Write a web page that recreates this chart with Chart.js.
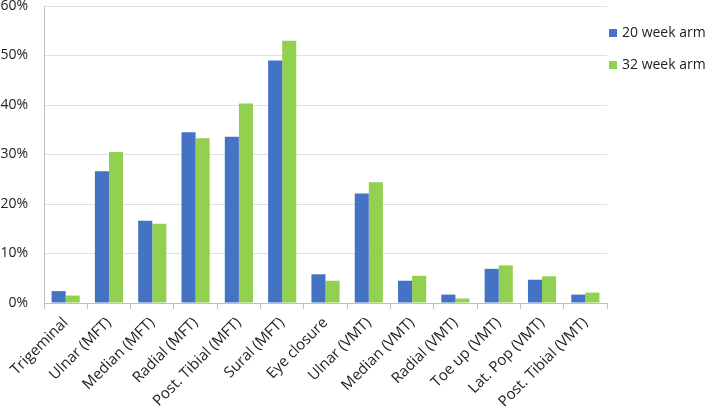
<!DOCTYPE html>
<html>
<head>
<meta charset="utf-8">
<script src="https://cdn.jsdelivr.net/npm/chart.js@4/dist/chart.umd.min.js"></script>
<style>
  html, body { margin: 0; padding: 0; background: #fff; }
  #wrap { width: 708px; height: 408px; }
</style>
</head>
<body>
<div id="wrap"><canvas id="grafico"></canvas></div>
<script>
var categorias = ["Trigeminal", "Ulnar (MFT)", "Median (MFT)", "Radial (MFT)", "Post. Tibial (MFT)",
  "Sural (MFT)", "Eye closure", "Ulnar (VMT)", "Median (VMT)", "Radial (VMT)", "Toe up (VMT)",
  "Lat. Pop (VMT)", "Post. Tibial (VMT)"];
var semana20 = [2.4, 26.6, 16.6, 34.5, 33.6, 49.0, 5.8, 22.1, 4.5, 1.7, 6.9, 4.7, 1.7];
var semana32 = [1.5, 30.5, 16.0, 33.3, 40.3, 53.0, 4.5, 24.4, 5.5, 0.9, 7.6, 5.4, 2.1];
var ticksY = [0, 10, 20, 30, 40, 50, 60];

var fonte = "'Open Sans', 'Liberation Sans', sans-serif";

// legenda desenhada a mao, a direita do grafico
const legendaDireita = {
  id: "legendaDireita",
  afterDraw: function (chart) {
    var ctx = chart.ctx;
    ctx.save();
    ctx.font = "14px " + fonte;
    ctx.textBaseline = "middle";
    ctx.textAlign = "left";
    chart.data.datasets.forEach(function (ds, i) {
      var y = 33 + i * 32;
      ctx.fillStyle = ds.backgroundColor;
      ctx.fillRect(609, y - 4, 8, 8);
      ctx.fillStyle = "#222";
      ctx.fillText(ds.label, 622, y);
    });
    ctx.restore();
  },
};

const config = {
  type: "bar",
  data: {
    labels: categorias,
    datasets: [
      {
        label: "20 week arm",
        backgroundColor: "#4472C4",
        data: semana20,
      },
      {
        label: "32 week arm",
        backgroundColor: "#92D050",
        data: semana32,
      },
    ],
  },
  options: {
    responsive: true,
    maintainAspectRatio: false,
    animation: false,
    layout: { padding: { top: 0, right: 101, left: 0, bottom: 0 } },
    datasets: { bar: { categoryPercentage: 0.65, barPercentage: 1 } },
    plugins: {
      legend: { display: false },
      tooltip: { enabled: false },
    },
    scales: {
      x: {
        afterFit: function (eixo) {
          eixo.height = 105;
          // os rotulos rodados podem sair pela esquerda, como no original
          eixo.getPadding = function () {
            return { left: 0, top: 0, right: 0, bottom: 0 };
          };
        },
        grid: {
          display: true,
          drawOnChartArea: false,
          offset: true,
          tickLength: 6,
          color: "#bfbfbf",
        },
        border: { color: "#bfbfbf" },
        ticks: {
          autoSkip: false,
          minRotation: 45,
          maxRotation: 45,
          padding: 5,
          color: "#222",
          font: { family: fonte, size: 15 },
        },
      },
      y: {
        min: 0,
        max: 60,
        afterBuildTicks: function (eixo) {
          eixo.ticks = ticksY.map(function (v) { return { value: v }; });
        },
        afterFit: function (eixo) {
          eixo.paddingTop = 6;
          eixo.width = 44;
        },
        grid: { color: "#e0e0e0", drawTicks: false },
        border: { color: "#bfbfbf" },
        ticks: {
          padding: 16,
          color: "#222",
          font: { family: fonte, size: 14 },
          callback: function (v) { return v + "%"; },
        },
      },
    },
  },
  plugins: [legendaDireita],
};

new Chart(document.getElementById("grafico"), config);
</script>
</body>
</html>
